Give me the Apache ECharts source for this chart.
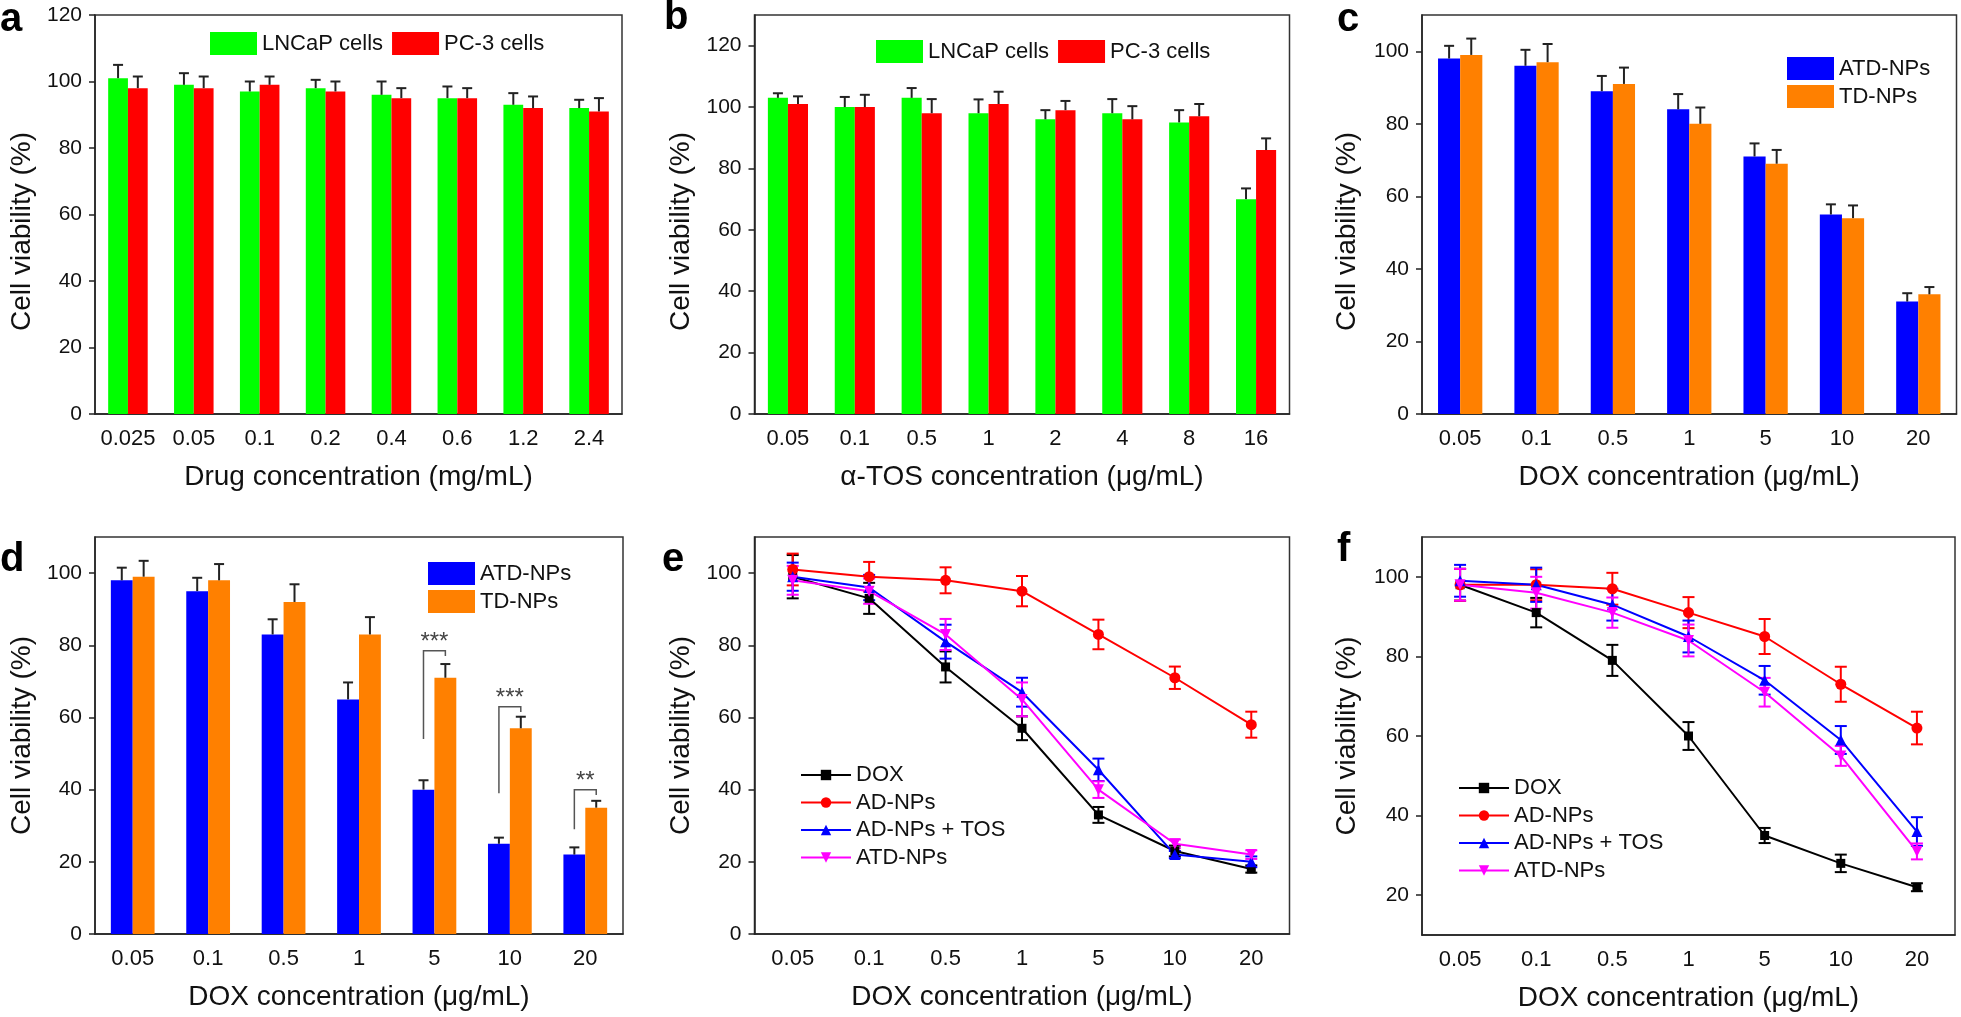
<!DOCTYPE html>
<html>
<head>
<meta charset="utf-8">
<script src="https://cdn.jsdelivr.net/npm/echarts@6/dist/echarts.min.js"></script>
<style>
    body { margin: 0; background: #fff; }
    .panel { position: absolute; }
</style>
</head>
<body>
<div class="panel" id="pa" style="left:0;top:0;width:650px;height:505px;"></div>
<div class="panel" id="pb" style="left:650px;top:0;width:650px;height:505px;"></div>
<div class="panel" id="pc" style="left:1300px;top:0;width:661px;height:505px;"></div>
<div class="panel" id="pd" style="left:0;top:505px;width:650px;height:512px;"></div>
<div class="panel" id="pe" style="left:650px;top:505px;width:650px;height:512px;"></div>
<div class="panel" id="pf" style="left:1300px;top:505px;width:661px;height:512px;"></div>

<script type="text/javascript">
    // categories
    var catsA = ['0.025', '0.05', '0.1', '0.2', '0.4', '0.6', '1.2', '2.4'];
    var catsB = ['0.05', '0.1', '0.5', '1', '2', '4', '8', '16'];
    var catsDox = ['0.05', '0.1', '0.5', '1', '5', '10', '20'];

    // tick labels
    var yTicks120 = [0, 20, 40, 60, 80, 100, 120];
    var yTicks100 = [0, 20, 40, 60, 80, 100];
    var yTicksF = [20, 40, 60, 80, 100];

    // a
    var lncapA = [101, 99, 97, 98, 96, 95, 93, 92];
    var lncapAErr = [4, 3.5, 3, 2.5, 4, 3.5, 3.5, 2.5];
    var pc3A = [98, 98, 99, 97, 95, 95, 92, 91];
    var pc3AErr = [3.5, 3.5, 2.5, 3, 3, 3, 3.5, 4];
    // b
    var lncapB = [103, 100, 103, 98, 96, 98, 95, 70];
    var lncapBErr = [1.5, 3.3, 3.2, 4.5, 3, 4.6, 4, 3.5];
    var pc3B = [101, 100, 98, 101, 99, 96, 97, 86];
    var pc3BErr = [2.5, 4, 4.6, 4, 3, 4.3, 4, 3.8];
    // c
    var atdC = [98, 96, 89, 84, 71, 55, 31];
    var atdCErr = [3.5, 4.4, 4.2, 4.2, 3.6, 2.8, 2.3];
    var tdC = [99, 97, 91, 80, 69, 54, 33];
    var tdCErr = [4.5, 5, 4.5, 4.5, 3.8, 3.5, 2];
    // d
    var atdD = [98, 95, 83, 65, 40, 25, 22];
    var atdDErr = [3.5, 3.7, 4.2, 4.7, 2.6, 1.7, 2];
    var tdD = [99, 98, 92, 83, 71, 57, 35];
    var tdDErr = [4.4, 4.5, 4.9, 4.8, 3.8, 3.2, 1.9];
    var sigCat = [4, 5, 6];
    var sigBase = [54, 39, 29];
    var sigTop = [78.5, 63, 40];
    var sigMarks = ['***', '***', '**'];
    // e
    var doxE = [99, 93, 74, 57, 33, 23, 18];
    var doxEErr = [6, 4.3, 4.3, 3.3, 2.2, 1.5, 1];
    var adE = [101, 99, 98, 95, 83, 71, 58];
    var adEErr = [4.4, 4.1, 3.6, 4.2, 4.1, 3.1, 3.6];
    var adTosE = [99, 96, 81, 67, 45.5, 22, 20];
    var adTosEErr = [3.9, 3.5, 4.7, 4, 3.1, 1, 1.5];
    var atdE = [98, 95, 83, 65, 40, 25, 22];
    var atdEErr = [4, 3.5, 4.3, 4.7, 2.3, 1.2, 1.2];
    // f
    var doxF = [98, 91, 79, 60, 35, 28, 22];
    var doxFErr = [4, 3.7, 3.9, 3.5, 1.9, 2.2, 1];
    var adF = [98, 98, 97, 91, 85, 73, 62];
    var adFErr = [4, 3.9, 4, 3.9, 4.4, 4.4, 4.1];
    var adTosF = [99, 98, 93, 85, 74, 59, 36];
    var adTosFErr = [4, 4.3, 4, 4, 3.6, 3.5, 3.6];
    var atdF = [98, 96, 91, 84, 71, 55, 31];
    var atdFErr = [4, 4, 3.8, 4, 3.6, 2.5, 2];

    var FONT = '"Liberation Sans", Arial, sans-serif';
    var INK = '#111';
    var AXIS = '#222';

    function errBars(vals, errs, off, color, both) {
        return {
            type: 'custom',
            silent: true,
            z: 5,
            data: vals.map(function (v, k) { return [k, v, errs[k]]; }),
            renderItem: function (params, api) {
                var k = api.value(0), v = api.value(1), e = api.value(2);
                var band = api.size([1, 0])[0];
                var mid = api.coord([k, v]);
                var hi = api.coord([k, v + e]);
                var lo = both ? api.coord([k, v - e]) : mid;
                var x = mid[0] + off * band;
                var c = both ? 6 : 5;
                var st = { stroke: color, lineWidth: 2 };
                var kids = [
                    { type: 'line', shape: { x1: x, y1: lo[1], x2: x, y2: hi[1] }, style: st },
                    { type: 'line', shape: { x1: x - c, y1: hi[1], x2: x + c, y2: hi[1] }, style: st }
                ];
                if (both) {
                    kids.push({ type: 'line', shape: { x1: x - c, y1: lo[1], x2: x + c, y2: lo[1] }, style: st });
                }
                return { type: 'group', children: kids };
            }
        };
    }

    function baseOption(p) {
        return {
            animation: false,
            graphic: [{
                type: 'text', left: p.letterX, top: p.letterY,
                style: { text: p.letter, font: 'bold 40px ' + FONT, fill: '#000' }
            }],
            grid: {
                left: p.grid[0], top: p.grid[1], width: p.grid[2], height: p.grid[3],
                show: true, borderColor: '#333', borderWidth: 1.5, backgroundColor: 'transparent'
            },
            xAxis: {
                type: 'category', data: p.cats, boundaryGap: true,
                axisLine: { lineStyle: { color: AXIS, width: 1.5 } },
                axisTick: { alignWithLabel: true, length: 7, lineStyle: { color: AXIS, width: 1.5 } },
                axisLabel: { interval: 0, margin: 14, color: INK, fontFamily: FONT, fontSize: 22 },
                name: p.xName, nameLocation: 'middle', nameGap: 49,
                nameTextStyle: { color: INK, fontFamily: FONT, fontSize: 28 }
            },
            yAxis: {
                type: 'value', min: p.ymin, max: p.ymax,
                splitLine: { show: false },
                axisLine: { show: true, lineStyle: { color: AXIS, width: 1.5 } },
                axisTick: { show: true, length: 6, customValues: p.yTicks, lineStyle: { color: AXIS, width: 1.5 } },
                axisLabel: { customValues: p.yTicks, margin: 13, color: INK, fontFamily: FONT, fontSize: 21 },
                name: 'Cell viability (%)', nameLocation: 'middle', nameGap: p.yGap || 59,
                nameTextStyle: { color: INK, fontFamily: FONT, fontSize: 28, padding: p.namePad || 0 }
            },
            legend: p.legend,
            series: p.series
        };
    }

    function barLegend(names, left, top, orient) {
        return {
            data: names, left: left, top: top, orient: orient,
            icon: 'rect', itemWidth: 47, itemHeight: 23, itemGap: orient === 'vertical' ? 5 : 9,
            selectedMode: false,
            textStyle: { color: INK, fontFamily: FONT, fontSize: 22 }
        };
    }

    function lineLegend(left, top) {
        return {
            data: ['DOX', 'AD-NPs', 'AD-NPs + TOS', 'ATD-NPs'], left: left, top: top, orient: 'vertical',
            itemWidth: 50, itemHeight: 13, itemGap: 5.5, selectedMode: false,
            textStyle: { color: INK, fontFamily: FONT, fontSize: 22, lineHeight: 22 }
        };
    }

    function bar(name, data, color, width) {
        return { type: 'bar', name: name, data: data, barWidth: width, barGap: '0%', itemStyle: { color: color } };
    }

    function line(name, data, color, symbol, size, rot) {
        return {
            type: 'line', name: name, data: data, symbol: symbol, symbolSize: size, symbolRotate: rot || 0,
            z: 6, lineStyle: { color: color, width: 2 }, itemStyle: { color: color }
        };
    }

    var xTitleA = 'Drug concentration (mg/mL)';
    var xTitleB = '\u03b1-TOS concentration (\u03bcg/mL)';
    var xTitleDox = 'DOX concentration (\u03bcg/mL)';
    var topPad = [0, 34, 0, 0];

    // a
    echarts.init(document.getElementById('pa')).setOption(baseOption({
        letter: 'a', letterX: 0, letterY: 0,
        grid: [87.5, 15, 534.5, 399], cats: catsA, xName: xTitleA,
        ymin: 0, ymax: 120, yTicks: yTicks120, namePad: topPad,
        legend: barLegend(['LNCaP cells', 'PC-3 cells'], 205, 27, 'horizontal'),
        series: [
            bar('LNCaP cells', lncapA, '#00ff00', '30%'),
            bar('PC-3 cells', pc3A, '#ff0000', '30%'),
            errBars(lncapA, lncapAErr, -0.15, '#222', false),
            errBars(pc3A, pc3AErr, 0.15, '#222', false)
        ]
    }));

    // b
    echarts.init(document.getElementById('pb')).setOption(baseOption({
        letter: 'b', letterX: 14, letterY: -2,
        grid: [104.5, 15, 535, 399], cats: catsB, xName: xTitleB,
        ymin: 0, ymax: 130, yTicks: yTicks120, namePad: topPad,
        legend: barLegend(['LNCaP cells', 'PC-3 cells'], 221, 35, 'horizontal'),
        series: [
            bar('LNCaP cells', lncapB, '#00ff00', '30%'),
            bar('PC-3 cells', pc3B, '#ff0000', '30%'),
            errBars(lncapB, lncapBErr, -0.15, '#222', false),
            errBars(pc3B, pc3BErr, 0.15, '#222', false)
        ]
    }));

    // c
    echarts.init(document.getElementById('pc')).setOption(baseOption({
        letter: 'c', letterX: 37, letterY: 0,
        grid: [122, 15, 534.5, 399], cats: catsDox, xName: xTitleDox,
        ymin: 0, ymax: 110, yTicks: yTicks100, namePad: topPad, yGap: 61,
        legend: barLegend(['ATD-NPs', 'TD-NPs'], 482, 52, 'vertical'),
        series: [
            bar('ATD-NPs', atdC, '#0000ff', '29%'),
            bar('TD-NPs', tdC, '#ff8000', '29%'),
            errBars(atdC, atdCErr, -0.145, '#222', false),
            errBars(tdC, tdCErr, 0.145, '#222', false)
        ]
    }));

    // d
    var sigSeries = {
        type: 'custom', silent: true, z: 7,
        data: sigCat.map(function (c, k) { return [c, sigBase[k], sigTop[k]]; }),
        renderItem: function (params, api) {
            var c = api.value(0);
            var band = api.size([1, 0])[0];
            var b = api.coord([c, api.value(1)]);
            var t = api.coord([c, api.value(2)]);
            var e = api.coord([c, api.value(2) - 1.5]);
            var xl = b[0] - 0.145 * band, xr = b[0] + 0.145 * band;
            return {
                type: 'group',
                children: [
                    {
                        type: 'polyline',
                        shape: { points: [[xl, b[1]], [xl, t[1]], [xr, t[1]], [xr, e[1]]] },
                        style: { stroke: '#555', lineWidth: 1.5, fill: null }
                    },
                    {
                        type: 'text',
                        style: {
                            x: b[0], y: t[1] + 4, text: sigMarks[params.dataIndex],
                            align: 'center', verticalAlign: 'bottom', font: '24px ' + FONT, fill: '#444'
                        }
                    }
                ]
            };
        }
    };
    echarts.init(document.getElementById('pd')).setOption(baseOption({
        letter: 'd', letterX: 0, letterY: 35,
        grid: [87.5, 32, 535.5, 397], cats: catsDox, xName: xTitleDox,
        ymin: 0, ymax: 110, yTicks: yTicks100,
        legend: barLegend(['ATD-NPs', 'TD-NPs'], 423, 52, 'vertical'),
        series: [
            bar('ATD-NPs', atdD, '#0000ff', '29%'),
            bar('TD-NPs', tdD, '#ff8000', '29%'),
            errBars(atdD, atdDErr, -0.145, '#222', false),
            errBars(tdD, tdDErr, 0.145, '#222', false),
            sigSeries
        ]
    }));

    // e
    echarts.init(document.getElementById('pe')).setOption(baseOption({
        letter: 'e', letterX: 12, letterY: 35,
        grid: [104.5, 32, 535, 397], cats: catsDox, xName: xTitleDox,
        ymin: 0, ymax: 110, yTicks: yTicks100,
        legend: lineLegend(145, 254),
        series: [
            errBars(doxE, doxEErr, 0, '#000', true),
            errBars(adE, adEErr, 0, '#ff0000', true),
            errBars(adTosE, adTosEErr, 0, '#0000ff', true),
            errBars(atdE, atdEErr, 0, '#ff00ff', true),
            line('DOX', doxE, '#000', 'rect', 9),
            line('AD-NPs', adE, '#ff0000', 'circle', 11),
            line('AD-NPs + TOS', adTosE, '#0000ff', 'triangle', 11),
            line('ATD-NPs', atdE, '#ff00ff', 'triangle', 11, 180)
        ]
    }));

    // f
    echarts.init(document.getElementById('pf')).setOption(baseOption({
        letter: 'f', letterX: 37, letterY: 25,
        grid: [122, 32, 533, 398], cats: catsDox, xName: xTitleDox,
        ymin: 10, ymax: 110, yTicks: yTicksF, yGap: 61,
        legend: lineLegend(153, 267),
        series: [
            errBars(doxF, doxFErr, 0, '#000', true),
            errBars(adF, adFErr, 0, '#ff0000', true),
            errBars(adTosF, adTosFErr, 0, '#0000ff', true),
            errBars(atdF, atdFErr, 0, '#ff00ff', true),
            line('DOX', doxF, '#000', 'rect', 9),
            line('AD-NPs', adF, '#ff0000', 'circle', 11),
            line('AD-NPs + TOS', adTosF, '#0000ff', 'triangle', 11),
            line('ATD-NPs', atdF, '#ff00ff', 'triangle', 11, 180)
        ]
    }));
</script>
</body>
</html>
